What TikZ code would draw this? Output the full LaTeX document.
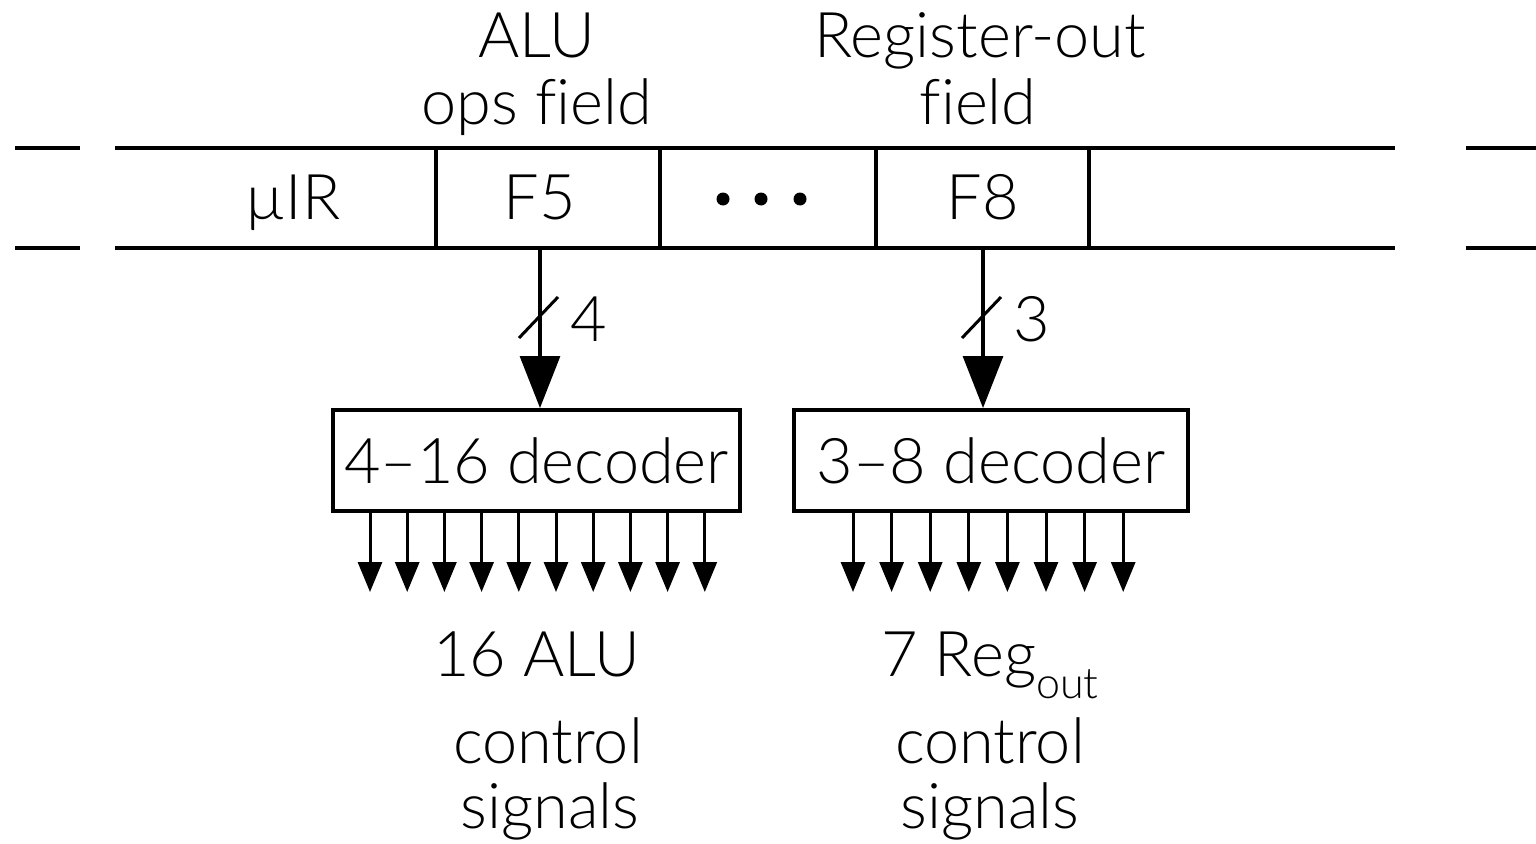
\documentclass[tikz,border=0pt]{standalone}
\usepackage{fontspec}
\setmainfont{Lato Light}[Ligatures=NoCommon]
\usetikzlibrary{arrows.meta}
\begin{document}
\begin{tikzpicture}[x=1pt,y=-1pt,
  txt/.style={font=\fontsize{63}{66}\selectfont, inner sep=0pt},
  wire/.style={line width=4pt},
  decbox/.style={draw, line width=4pt, inner sep=0pt, font=\fontsize{63}{66}\selectfont},
  bus/.style={line width=3.2pt, -{Triangle[length=52pt,width=40pt]}},
  sig/.style={line width=3pt, -{Triangle[length=30pt,width=24pt]}},
  slash/.style={line width=3pt}]
\useasboundingbox (0,0) rectangle (1536,843);

% register outline and its broken ends
\foreach \y in {148,248} {
  \draw[wire] (15,\y) -- (80,\y);
  \draw[wire] (115,\y) -- (1395,\y);
  \draw[wire] (1466,\y) -- (1536,\y);
}
\foreach \x in {436,660,876,1089}
  \draw[wire] (\x,148) -- (\x,248);

% field contents
\node[txt, anchor=base] (uir) at (293,219) {µIR};
\node[txt, anchor=base] (f5) at (540,219) {F5};
\node[txt, anchor=base] (f8) at (983,219) {F8};
\foreach \x in {723,761,800}
  \fill (\x,199) circle (6.5);

% field captions
\node[txt, anchor=base] (alu) at (537,57) {ALU};
\node[txt, anchor=base] (ops) at (537,124) {ops field};
\node[txt, anchor=base] (regout) at (980,57) {Register-out};
\node[txt, anchor=base] (fld) at (978,124) {field};

% decoders
\node[decbox, minimum width=407pt, minimum height=101pt] (dec1) at (536.5,460.5) {4–16 decoder};
\node[decbox, minimum width=394pt, minimum height=101pt] (dec2) at (991,460.5) {3–8 decoder};

% field buses into the decoders
\coordinate (f5b) at (540,248);
\coordinate (f8b) at (983,248);
\draw[bus] (f5b) -- (dec1.north -| f5b);
\draw[bus] (f8b) -- (dec2.north -| f8b);
\draw[slash] ([shift={(-21,90)}]f5b) -- ++(39,-41);
\draw[slash] ([shift={(-21,90)}]f8b) -- ++(39,-41);
\node[txt, anchor=base west] (w4) at (570,341) {4};
\node[txt, anchor=base west] (w3) at (1013,341) {3};

% decoder outputs
\foreach \i in {0,...,9}
  \draw[sig] ([xshift=39+\i*37.2]dec1.south west) -- ++(0,79);
\foreach \i in {0,...,7}
  \draw[sig] ([xshift=61+\i*38.6]dec2.south west) -- ++(0,79);

% output captions
\node[txt, anchor=base] (o1a) at (537,676) {16 ALU};
\node[txt, anchor=base] (o1b) at (548,763) {control};
\node[txt, anchor=base] (o1c) at (550,828) {signals};
\node[txt, anchor=base] (o2a) at (990,676) {7 Reg\raisebox{-22pt}{\fontsize{43}{44}\selectfont out}};
\node[txt, anchor=base] (o2b) at (990,763) {control};
\node[txt, anchor=base] (o2c) at (990,828) {signals};
\end{tikzpicture}
\end{document}
